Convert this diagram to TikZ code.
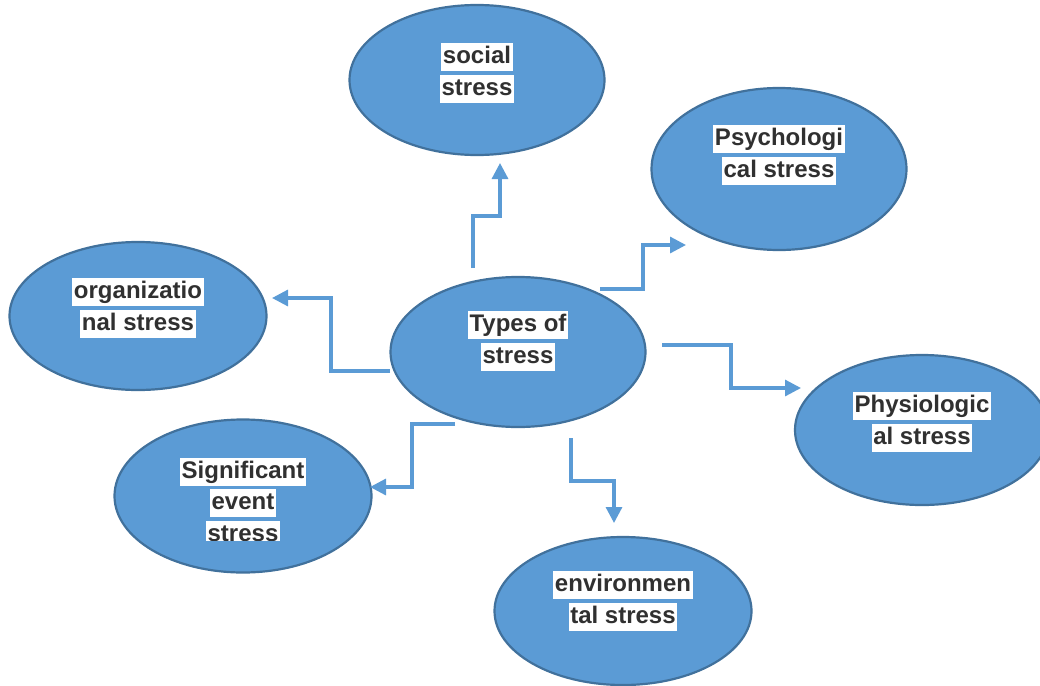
\documentclass[tikz,border=0pt]{standalone}
\usepackage{fontspec}
\setmainfont{Liberation Sans}
\usetikzlibrary{arrows.meta,shapes.geometric}
\newcommand{\whitetag}[1]{{\setlength{\fboxsep}{1.5pt}\colorbox{white}{\rule[-6pt]{0pt}{25pt}#1}}}

\begin{document}
\begin{tikzpicture}[x=1pt,y=-1pt,
    bubble/.style={ellipse,draw=bubbleedge,line width=2.2pt,fill=bubblefill,inner sep=0pt},
    tagtext/.style={anchor=north,inner sep=0pt,align=center,text=inkgray,
      font=\fontsize{24}{31.5}\selectfont\bfseries},
    link/.style={draw=linkblue,line width=3.2pt,
      -{Triangle[length=16pt,width=16pt]}}]
  \definecolor{bubblefill}{HTML}{5B9BD5}
  \definecolor{bubbleedge}{HTML}{41719C}
  \definecolor{linkblue}{HTML}{5B9BD5}
  \definecolor{inkgray}{HTML}{303030}

  \useasboundingbox (0,0) rectangle (1040,685);
  \clip (0,0) rectangle (1040,685);

  % ellipses
  \node[bubble,minimum width=255pt,minimum height=150pt] (social) at (477,80) {};
  \node[bubble,minimum width=255pt,minimum height=162pt] (psycho) at (779,169) {};
  \node[bubble,minimum width=257pt,minimum height=148pt] (organ) at (138,316) {};
  \node[bubble,minimum width=255pt,minimum height=150pt] (types) at (518,352) {};
  \node[bubble,minimum width=254pt,minimum height=150pt] (physio) at (922,430) {};
  \node[bubble,minimum width=257pt,minimum height=153pt] (event) at (243,496) {};
  \node[bubble,minimum width=257pt,minimum height=148pt] (environ) at (623,611) {};

  % labels
  \node[tagtext] (socialtext) at ([yshift=-39pt]social.north) {\whitetag{social}\\\whitetag{stress}};
  \node[tagtext] (psychotext) at ([yshift=-38pt]psycho.north) {\whitetag{Psychologi}\\\whitetag{cal stress}};
  \node[tagtext] (organtext) at ([yshift=-37pt]organ.north) {\whitetag{organizatio}\\\whitetag{nal stress}};
  \node[tagtext] (typestext) at ([yshift=-35pt]types.north) {\whitetag{Types of}\\\whitetag{stress}};
  \node[tagtext] (physiotext) at ([yshift=-38pt]physio.north) {\whitetag{Physiologic}\\\whitetag{al stress}};
  \begin{scope}
    \clip (0,0) rectangle (1040,540);
    \node[tagtext] (eventtext) at ([yshift=-39pt]event.north) {\whitetag{Significant}\\\whitetag{event}\\\whitetag{stress}};
  \end{scope}
  \node[tagtext] (environtext) at ([yshift=-35pt]environ.north) {\whitetag{environmen}\\\whitetag{tal stress}};

  % connector ends
  \coordinate (socialfrom) at (473,268);
  \coordinate (socialto) at (500,163);
  \coordinate (psychofrom) at (600,289);
  \coordinate (psychoto) at (686,245);
  \coordinate (organfrom) at (390,371);
  \coordinate (organto) at (272,298);
  \coordinate (physiofrom) at (662,345);
  \coordinate (physioto) at (801,388);
  \coordinate (eventfrom) at (455,424);
  \coordinate (eventto) at (370,487);
  \coordinate (environfrom) at (571,438);
  \coordinate (environto) at (614,523);

  % connectors
  \draw[link] (socialfrom) -- ++(0,-52) -| (socialto);
  \draw[link] (psychofrom) -- ++(43,0) |- (psychoto);
  \draw[link] (organfrom) -- ++(-59,0) |- (organto);
  \draw[link] (physiofrom) -- ++(69,0) |- (physioto);
  \draw[link] (eventfrom) -- ++(-43,0) |- (eventto);
  \draw[link] (environfrom) -- ++(0,43) -| (environto);
\end{tikzpicture}
\end{document}
